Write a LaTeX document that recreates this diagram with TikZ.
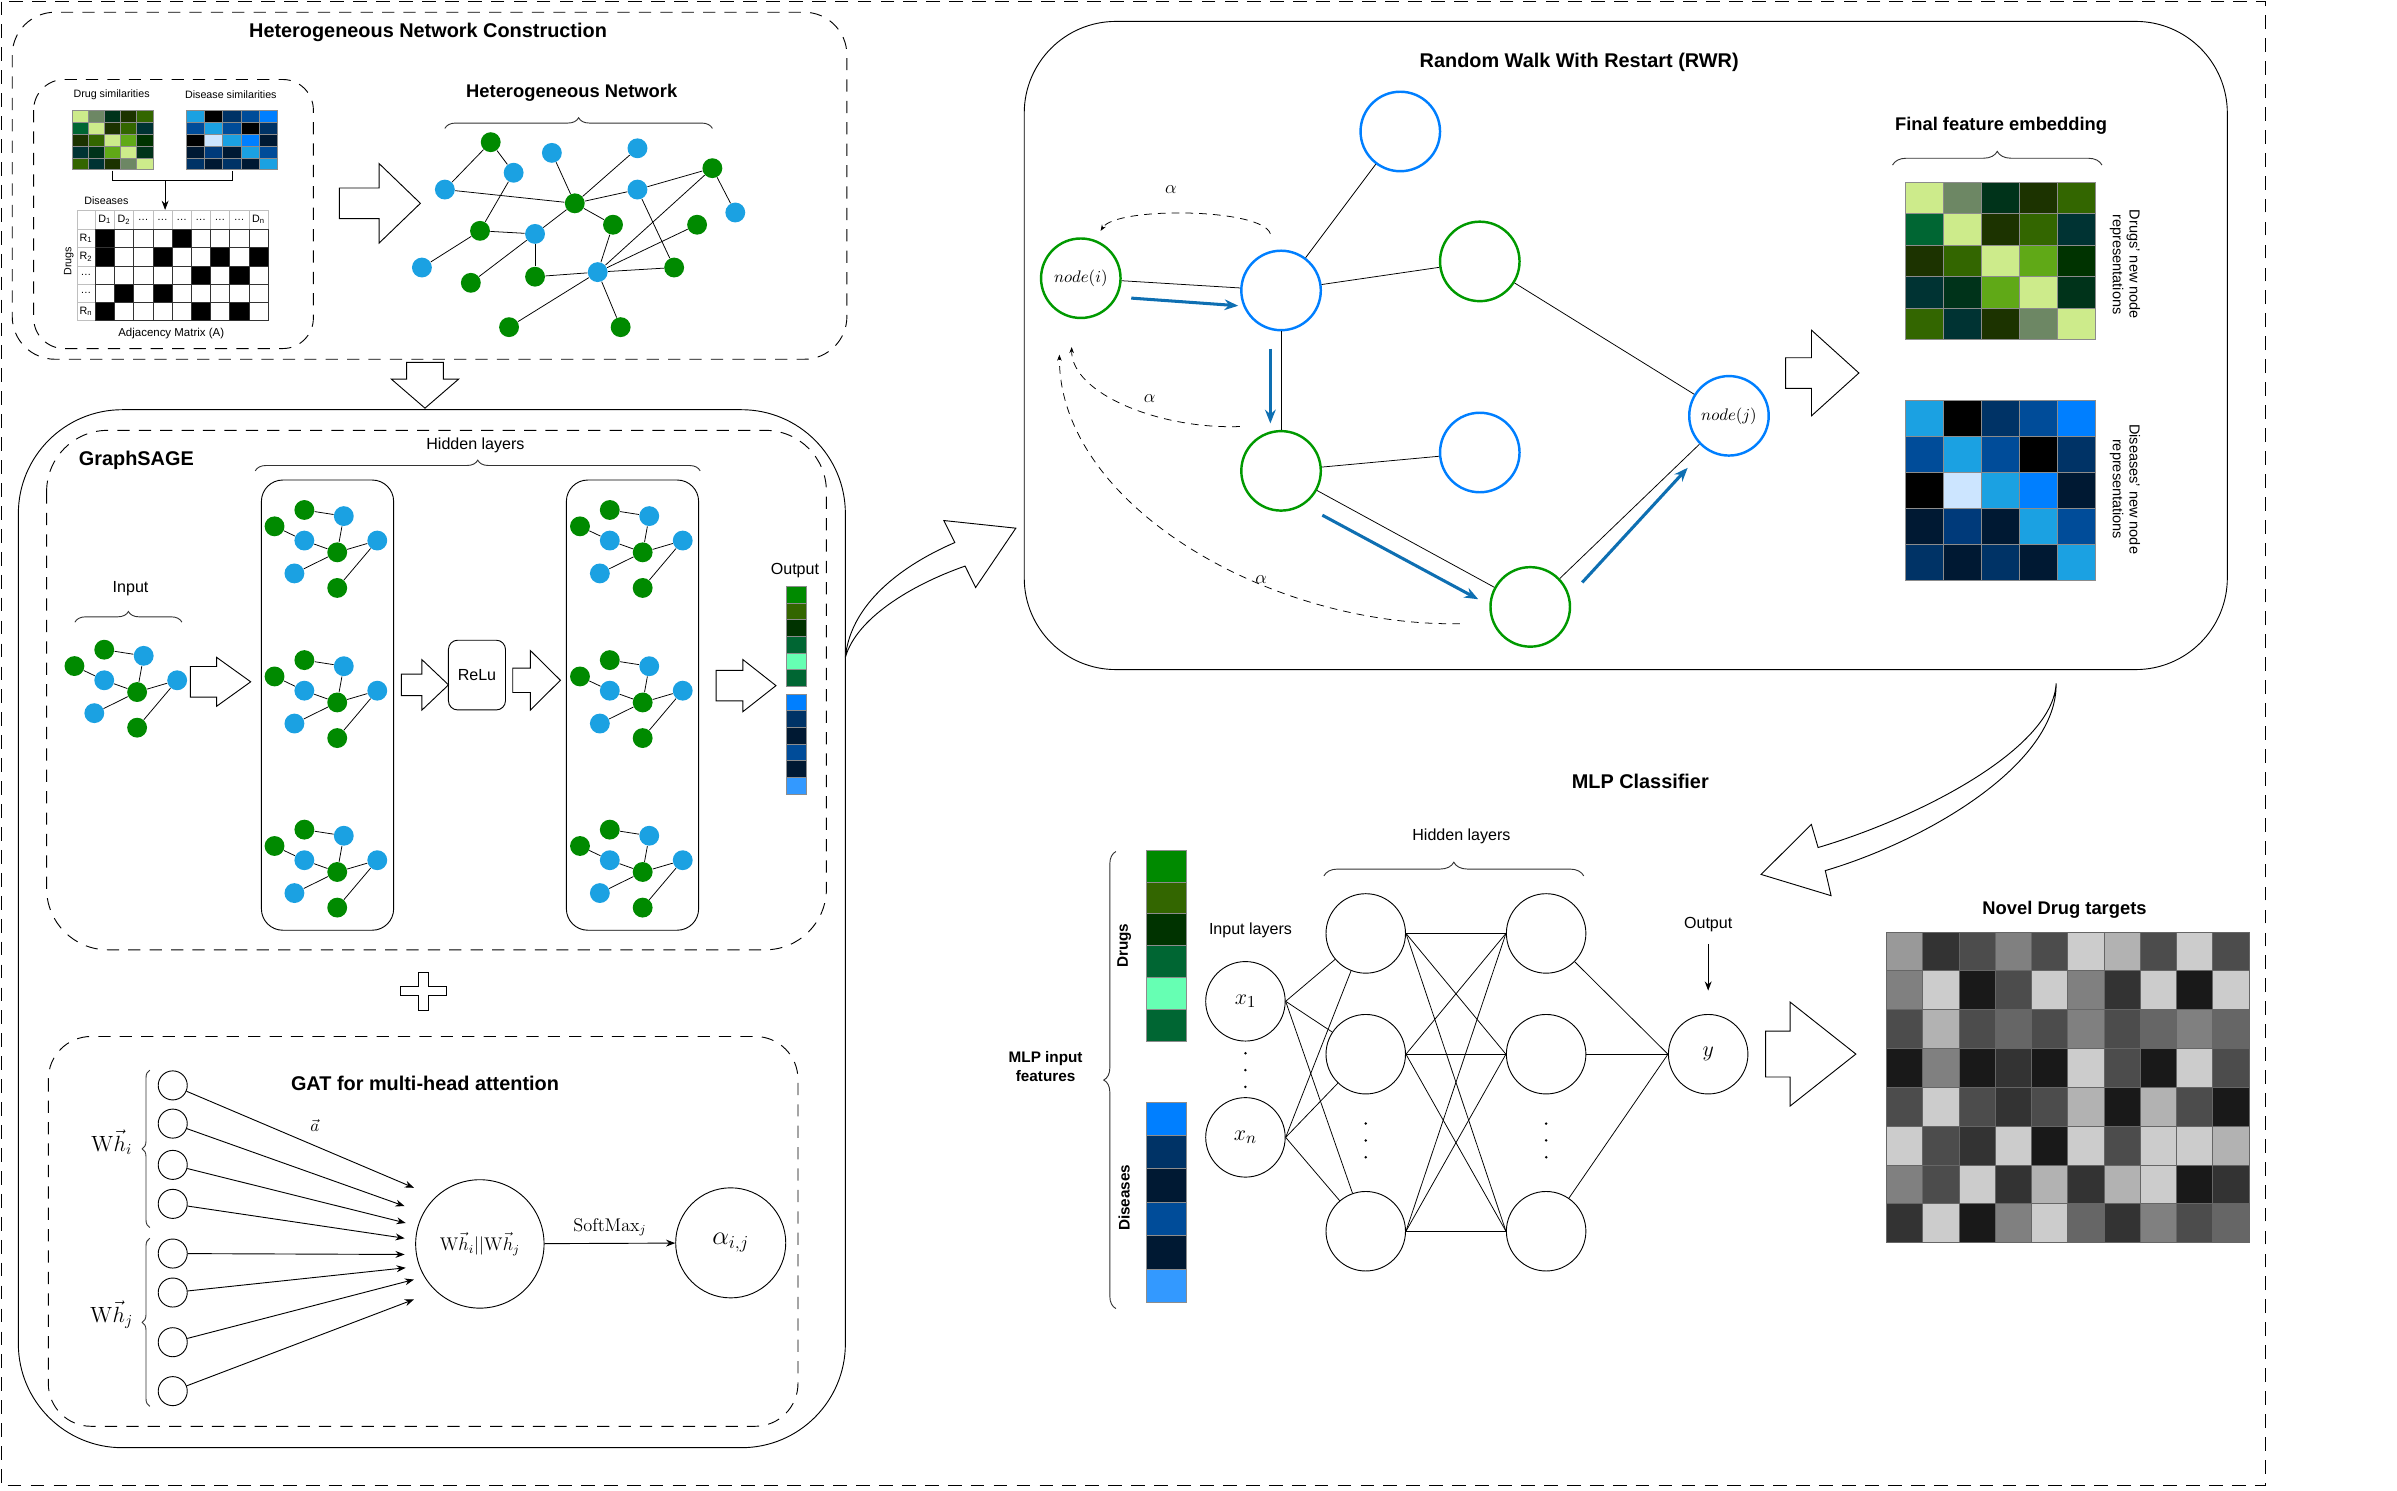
\documentclass[tikz,border=0pt]{standalone}
\usepackage[no-math]{fontspec}
\setmainfont{Liberation Sans}
\usetikzlibrary{positioning, arrows.meta, decorations.pathreplacing}

\definecolor{gnode}{HTML}{008A00}
\definecolor{bnode}{HTML}{1BA1E2}
\definecolor{walkgreen}{HTML}{009900}
\definecolor{walkblue}{HTML}{007FFF}
\definecolor{stepblue}{HTML}{0E6FB2}
\definecolor{dA}{HTML}{CDEB8B}
\definecolor{dB}{HTML}{6D8764}
\definecolor{dC}{HTML}{00331A}
\definecolor{dD}{HTML}{1C3300}
\definecolor{dE}{HTML}{336600}
\definecolor{dF}{HTML}{006633}
\definecolor{dG}{HTML}{003333}
\definecolor{dH}{HTML}{60A917}
\definecolor{dI}{HTML}{003300}
\definecolor{sA}{HTML}{1BA1E2}
\definecolor{sB}{HTML}{000000}
\definecolor{sC}{HTML}{003366}
\definecolor{sD}{HTML}{004C99}
\definecolor{sE}{HTML}{007FFF}
\definecolor{sF}{HTML}{CCE5FF}
\definecolor{sG}{HTML}{001933}
\definecolor{sH}{HTML}{003A7A}
\definecolor{oA}{HTML}{008A00}
\definecolor{oB}{HTML}{336600}
\definecolor{oC}{HTML}{003300}
\definecolor{oD}{HTML}{006633}
\definecolor{oE}{HTML}{66FFB3}
\definecolor{pA}{HTML}{007FFF}
\definecolor{pB}{HTML}{003366}
\definecolor{pC}{HTML}{001933}
\definecolor{pD}{HTML}{004C99}
\definecolor{pE}{HTML}{3399FF}

\newcommand{\cellgrid}[5]{%
    \foreach \row [count=\ri from 0] in #5 {
        \foreach \cl [count=\ki from 0] in \row {
            \filldraw[fill=\cl, draw=black!45, line width=0.3pt]
                ({#1+\ki*#3},{#2+\ri*#4}) rectangle ++(#3,#4);
        }
    }%
}

\newcommand{\blockR}[6]{%
    \draw[fill=white] (#1,{#4-#5}) -- (#2,{#4-#5}) -- (#2,{#4-#6}) -- (#3,#4)
        -- (#2,{#4+#6}) -- (#2,{#4+#5}) -- (#1,{#4+#5}) -- cycle;%
}

\newcommand{\drugrows}{{dA,dB,dC,dD,dE},{dF,dA,dD,dE,dG},{dD,dE,dA,dH,dI},{dG,dC,dH,dA,dC},{dE,dG,dD,dB,dA}}
\newcommand{\diseaserows}{{sA,sB,sC,sD,sE},{sD,sA,sD,sB,sC},{sB,sF,sA,sE,sG},{sG,sH,sG,sA,sD},{sC,sG,sC,sG,sA}}
\newcommand{\greenbar}{{oA},{oB},{oC},{oD},{oE},{oD}}
\newcommand{\bluebar}{{pA},{pB},{pC},{pD},{pC},{pE}}

\begin{document}
\begin{tikzpicture}[x=1pt, y=-1pt, line width=0.6pt,
    gn/.style={circle, fill=gnode, minimum size=13pt, inner sep=0pt},
    bn/.style={circle, fill=bnode, minimum size=13pt, inner sep=0pt},
    link/.style={line width=0.5pt},
    walkg/.style={circle, draw=walkgreen, line width=1.6pt, minimum size=52pt, inner sep=0pt, font=\fontsize{10.5}{12}\selectfont},
    walkb/.style={walkg, draw=walkblue},
    neuron/.style={circle, draw, minimum size=52pt, inner sep=0pt, font=\fontsize{15}{17}\selectfont},
    gatunit/.style={circle, draw, minimum size=19pt, inner sep=0pt},
    bigtitle/.style={font=\fontsize{13}{15}\selectfont\bfseries},
    subtitle/.style={font=\fontsize{12}{14}\selectfont\bfseries},
    lbl/.style={font=\fontsize{10.5}{12}\selectfont},
    tinytext/.style={font=\fontsize{7}{8}\selectfont, inner sep=1pt},
    greek/.style={font=\fontsize{12.5}{14}\selectfont},
    panel/.style={draw, dash pattern=on 8pt off 6pt, rounded corners=#1},
    solidbox/.style={draw, rounded corners=#1},
    brc/.style={decorate, decoration={brace, amplitude=#1}, black!80},
    arr/.style={-{Stealth[length=6pt, width=4.5pt]}},
    walk/.style={draw=stepblue, line width=2pt, -{Stealth[length=9pt, width=7pt]}},
    restart/.style={dash pattern=on 5pt off 4pt, line width=0.5pt, -{Stealth[length=4pt, width=3pt]}},
    minigraph/.pic={
        \node[gn] (-a) at (-41,-17) {};
        \node[gn] (-b) at (-21.5,-27.7) {};
        \node[bn] (-c) at (4.3,-23.7) {};
        \node[bn] (-d) at (-21.5,-7.7) {};
        \node[gn] (-e) at (0,0) {};
        \node[bn] (-f) at (26.2,-7.7) {};
        \node[bn] (-g) at (-28,13.8) {};
        \node[gn] (-h) at (0,23.3) {};
        \draw[link] (-a) -- (-d) (-b) -- (-c) (-c) -- (-e) (-d) -- (-e)
            (-e) -- (-f) (-e) -- (-g) (-f) -- (-h);
    }
]

    \useasboundingbox (0,0) rectangle (1568,975);
    \draw[dash pattern=on 9pt off 6pt] (1,1) rectangle (1482,972);

    % heterogeneous network construction
    \draw[panel=28pt] (8,8) rectangle (554,235);
    \node[bigtitle] at (280,21) {Heterogeneous Network Construction};
    \draw[panel=20pt] (22,52) rectangle (205,228);

    \node[tinytext] at (73,62) {Drug similarities};
    \node[tinytext] at (151,62) {Disease similarities};
    \node[minimum width=53pt, minimum height=39pt, inner sep=0pt, anchor=north west] (drugsim) at (47,72) {};
    \node[minimum width=60pt, minimum height=39pt, inner sep=0pt, anchor=north west] (dissim) at (121.5,72) {};
    \cellgrid{47}{72}{10.6}{7.8}{\drugrows}
    \cellgrid{121.5}{72}{12}{7.8}{\diseaserows}

    \node[minimum width=125pt, minimum height=72.4pt, inner sep=0pt, anchor=north west] (adj) at (50.4,137.3) {};
    \coordinate (simjoin) at (108,118);
    \draw[link] (drugsim.south) |- (simjoin) -| (dissim.south);
    \draw[link, arr] (simjoin) -- (simjoin |- adj.north);

    \foreach \ki in {0,...,8} {
        \draw[black!25, line width=0.4pt] ({62.3+\ki*12.56},137.3) rectangle ++(12.56,12.7);
    }
    \foreach \ri in {0,...,4} {
        \draw[black!25, line width=0.4pt] (50.4,{150+\ri*11.94}) rectangle ++(11.9,11.94);
    }
    \draw[black!25, line width=0.4pt] (50.4,137.3) rectangle (62.3,150);
    \foreach \cols [count=\ri from 0] in {{1,5},{1,4,7,9},{6,8},{2,4},{1,6,8}} {
        \foreach \ci in \cols {
            \fill ({62.3+(\ci-1)*12.56},{150+\ri*11.94}) rectangle ++(12.56,11.94);
        }
    }
    \foreach \ki in {0,...,8} {
        \foreach \ri in {0,...,4} {
            \draw[black!80, line width=0.4pt] ({62.3+\ki*12.56},{150+\ri*11.94}) rectangle ++(12.56,11.94);
        }
    }
    \foreach \t [count=\ki] in {D\textsubscript{1},D\textsubscript{2},\dots,\dots,\dots,\dots,\dots,\dots,D\textsubscript{n}} {
        \node[tinytext] at ({56.02+\ki*12.56},143.6) {\t};
    }
    \foreach \t [count=\ri] in {R\textsubscript{1},R\textsubscript{2},\dots,\dots,R\textsubscript{n}} {
        \node[tinytext] at (56.3,{144.03+\ri*11.94}) {\t};
    }
    \node[tinytext] at (69.6,131) {Diseases};
    \node[tinytext, rotate=90] at (45,171) {Drugs};
    \node[tinytext, font=\fontsize{7.5}{9}\selectfont] at (112,218) {Adjacency Matrix (A)};

    \blockR{222}{248}{275}{133}{10}{26}

    \node[subtitle] at (374,61) {Heterogeneous Network};
    \draw[brc=7pt] (291,84) -- (466,84);

    \foreach \n/\x/\y in {G1/321/93, G2/466/110, G3/376/133, G4/314/151, G5/401/147, G6/456/147,
        G7/308/185, G8/350/181, G9/441/175, G10/333/214, G11/406/214} {
        \node[gn] (\n) at (\x,\y) {};
    }
    \foreach \n/\x/\y in {B1/361/100, B2/417/97, B3/336/113, B4/291/124, B5/417/124, B6/481/139,
        B7/350/153, B8/276/175, B9/391/178} {
        \node[bn] (\n) at (\x,\y) {};
    }
    \foreach \a/\b in {G1/B3, G1/B4, B4/G3, B1/G3, B2/G3, G3/B5, B5/G2, G2/B6, G3/G5, G3/B7,
        B3/G4, G4/B7, G4/B8, B7/G7, B7/G8, G8/B9, B9/G9, B9/G5, B9/G2, B9/G6, B5/G9, B9/G10, B9/G11} {
        \draw[link] (\a) -- (\b);
    }

    \draw[fill=white] (266,237) -- (290,237) -- (290,248) -- (300,248) -- (278,267)
        -- (256,248) -- (266,248) -- cycle;

    % graphsage
    \draw[solidbox=68pt] (12,268) rectangle (553,947);
    \draw[panel=40pt] (30.5,281.5) rectangle (540.6,621.3);
    \node[bigtitle, anchor=west] at (48,301) {GraphSAGE};
    \node[lbl] at (311,291) {Hidden layers};
    \draw[brc=7pt] (167,308) -- (458,308);
    \node[lbl] at (85.4,385) {Input};
    \draw[brc=7pt] (49,407) -- (119,407);

    \pic (inp) at (89.7,452.7) {minigraph};
    \draw[solidbox=14pt] (171,314) rectangle (257.5,608.5);
    \draw[solidbox=14pt] (370.5,314) rectangle (457,608.5);
    \foreach \px [count=\ci] in {220.6,420.4} {
        \foreach \py [count=\ri] in {361.3,459.5,570.4} {
            \pic (hid\ci\ri) at (\px,\py) {minigraph};
        }
    }
    \node[draw, rounded corners=6pt, minimum width=37.3pt, minimum height=45.6pt, lbl] (relu) at (312,441.6) {ReLu};

    \blockR{124.5}{141.7}{164}{446}{10}{16}
    \blockR{262.6}{276}{293.4}{448}{7}{16.5}
    \blockR{335.4}{346.9}{366.6}{445}{8}{19.5}
    \blockR{468.5}{486}{507.6}{448.5}{10}{17}

    \node[lbl] at (520,373) {Output};
    \cellgrid{514}{383.5}{13.3}{10.9}{\greenbar}
    \cellgrid{514}{454}{13.3}{10.9}{\bluebar}

    \draw[fill=white] (274,636) -- (280,636) -- (280,645) -- (292,645) -- (292,651) -- (280,651)
        -- (280,661) -- (274,661) -- (274,651) -- (262,651) -- (262,645) -- (274,645) -- cycle;

    % gat
    \draw[panel=28pt] (31.6,678) rectangle (522,933);
    \node[bigtitle] at (278,709) {GAT for multi-head attention};
    \foreach \i/\yy in {1/710, 2/735, 3/762, 4/787.5, 5/820, 6/845.5, 7/878, 8/910} {
        \node[gatunit] (c\i) at (113,\yy) {};
    }
    \foreach \i/\ex/\ey in {1/270.8/777, 2/264.7/789, 3/265.4/800, 4/264.7/810,
        5/264.7/820.6, 6/265.4/829.3, 7/270.8/837, 8/270.8/850} {
        \coordinate (e\i) at (\ex,\ey);
        \draw[arr] (c\i) -- (e\i);
    }
    \draw[brc=5pt] (98,803) -- (98,700);
    \draw[brc=5pt] (98,920) -- (98,810);
    \node[font=\fontsize{14.5}{16}\selectfont] at (73,747) {$\mathrm{W}\vec{h}_i$};
    \node[font=\fontsize{14.5}{16}\selectfont] at (73,860) {$\mathrm{W}\vec{h}_j$};
    \node[font=\fontsize{11}{13}\selectfont] at (206,736) {$\vec{a}$};
    \node[circle, draw, minimum size=84pt, inner sep=0pt, font=\fontsize{12}{14}\selectfont] (concat) at (313.9,813.7) {$\mathrm{W}\vec{h}_i||\mathrm{W}\vec{h}_j$};
    \node[circle, draw, minimum size=72pt, inner sep=0pt, font=\fontsize{17}{19}\selectfont] (att) at (478,813) {$\alpha_{i,j}$};
    \draw[arr] (concat) -- (att) node[midway, above=1pt, font=\fontsize{11.5}{13}\selectfont] {$\mathrm{SoftMax}_j$};

    % curved arrow to rwr
    \draw[fill=white] (553,430) .. controls (556,398) and (585,372) .. (624.6,354.9)
        -- (617.4,340.5) -- (664.5,345.5) -- (638.2,384.3) -- (631.3,370.3)
        .. controls (595,383) and (560,405) .. (553,430) -- cycle;

    % random walk with restart
    \draw[solidbox=60pt] (670,14) rectangle (1457,438);
    \node[bigtitle] at (1033,41) {Random Walk With Restart (RWR)};
    \node[walkg] (nodei) at (707,182) {$node(i)$};
    \node[walkb] (walkA) at (838,190) {};
    \node[walkb] (walkTop) at (916,86) {};
    \node[walkg] (walkR) at (968,171) {};
    \node[walkg] (walkM) at (838,308) {};
    \node[walkb] (walkMR) at (968,296) {};
    \node[walkg] (walkB) at (1001,397) {};
    \node[walkb] (nodej) at (1131,272) {$node(j)$};
    \foreach \a/\b in {nodei/walkA, walkA/walkTop, walkA/walkR, walkA/walkM, walkR/nodej,
        walkM/walkMR, walkM/walkB, walkB/nodej} {
        \draw[link] (\a) -- (\b);
    }

    \coordinate (w1s) at (740,195);
    \coordinate (w1e) at (810,200);
    \coordinate (w2s) at (831,228);
    \coordinate (w2e) at (831,277);
    \coordinate (w3s) at (865,337);
    \coordinate (w3e) at (967,392);
    \coordinate (w4s) at (1035,381);
    \coordinate (w4e) at (1104,306);
    \draw[walk] (w1s) -- (w1e);
    \draw[walk] (w2s) -- (w2e);
    \draw[walk] (w3s) -- (w3e);
    \draw[walk] (w4s) -- (w4e);

    \coordinate (r1s) at (831,153);
    \coordinate (r1e) at (720,151);
    \coordinate (r2s) at (811,279);
    \coordinate (r2e) at (701,227);
    \coordinate (r3s) at (955,408);
    \coordinate (r3e) at (693,232);
    \draw[restart] (r1s) .. controls (826,136) and (730,135) .. (r1e);
    \draw[restart] (r2s) .. controls (760,281) and (701,258) .. (r2e);
    \draw[restart] (r3s) .. controls (830,410) and (693,330) .. (r3e);
    \node[greek] at (766,124) {$\alpha$};
    \node[greek] at (752,261) {$\alpha$};
    \node[greek] at (825,379) {$\alpha$};

    \blockR{1168}{1185}{1216}{244}{10}{28}

    \node[subtitle] at (1309,82) {Final feature embedding};
    \draw[brc=9pt] (1238,108) -- (1375,108);
    \cellgrid{1246.4}{119.2}{24.9}{20.6}{\drugrows}
    \cellgrid{1246.4}{262}{24.9}{23.5}{\diseaserows}
    \node[rotate=-90, align=center, font=\fontsize{9.5}{11}\selectfont] at (1390,173) {Drugs' new node\\representations};
    \node[rotate=-90, align=center, font=\fontsize{9.5}{11}\selectfont] at (1390,320) {Diseases' new node\\representations};

    % curved arrow to mlp
    \draw[fill=white] (1345,447) .. controls (1346,500) and (1260,550) .. (1194,569.5)
        -- (1197.8,585.9) -- (1152,572) -- (1184.9,539.3) -- (1189.3,554.4)
        .. controls (1255,535) and (1343,490) .. (1345,447) -- cycle;

    % mlp classifier
    \node[bigtitle] at (1073,511) {MLP Classifier};
    \node[font=\fontsize{10}{12}\selectfont\bfseries, align=center] at (684,697.6) {MLP input\\features};
    \draw[brc=8pt] (730,856) -- (730,557);
    \cellgrid{749.8}{556}{26.2}{20.8}{\greenbar}
    \cellgrid{749.8}{720.7}{26.2}{21.9}{\bluebar}
    \node[rotate=90, font=\fontsize{10}{12}\selectfont\bfseries] at (735.4,618.6) {Drugs};
    \node[rotate=90, font=\fontsize{10}{12}\selectfont\bfseries] at (735.4,783.5) {Diseases};

    \node[lbl] at (818,608.4) {Input layers};
    \node[neuron] (x1) at (814.7,655) {$x_1$};
    \node[neuron] (xn) at (814.7,744) {$x_n$};
    \node[neuron] (h1a) at (893.4,610.6) {};
    \node[neuron] (h1b) at (893.4,689.6) {};
    \node[neuron] (h1c) at (893.4,805.4) {};
    \node[neuron] (h2a) at (1011.4,610.6) {};
    \node[neuron] (h2b) at (1011.4,689.6) {};
    \node[neuron] (h2c) at (1011.4,805.4) {};
    \node[neuron] (y) at (1117.4,689.6) {$y$};
    \foreach \yy in {689,700,711} {
        \fill (814.7,\yy) circle (0.9pt);
    }
    \foreach \yy in {735,746,757} {
        \fill (893.4,\yy) circle (0.9pt);
        \fill (1011.4,\yy) circle (0.9pt);
    }
    \foreach \s in {x1,xn} {
        \foreach \t in {h1a,h1b,h1c} {
            \draw[link] (\s.east) -- (\t);
        }
    }
    \foreach \s in {h1a,h1b,h1c} {
        \foreach \t in {h2a,h2b,h2c} {
            \draw[link] (\s.east) -- (\t.west);
        }
    }
    \foreach \s in {h2a,h2b,h2c} {
        \draw[link] (\s) -- (y.west);
    }
    \node[lbl] at (956,547) {Hidden layers};
    \draw[brc=9pt] (866,573) -- (1036,573);
    \node[lbl] (outlbl) at (1117.4,605) {Output};
    \coordinate (ytop) at (1117.4,648);
    \draw[arr] ([yshift=-4pt]outlbl.south) -- (ytop);

    \blockR{1155}{1171}{1214}{689.5}{15}{34}

    \node[subtitle] at (1350.5,595) {Novel Drug targets};
    \foreach \row [count=\ri from 0] in {{4,8,7,5,7,2,3,7,2,7},{5,2,9,7,2,5,8,2,9,2},
        {7,3,7,6,7,5,7,6,5,6},{9,5,9,8,9,2,7,9,2,7},{7,2,7,8,7,3,9,3,7,9},
        {2,7,8,2,9,2,7,2,2,3},{5,7,2,8,3,8,3,2,9,8},{8,2,9,5,2,6,8,5,7,6}} {
        \foreach \v [count=\ki from 0] in \row {
            \filldraw[fill=black!\v0, draw=black!60, line width=0.3pt]
                ({1234+\ki*23.7},{609.5+\ri*25.4}) rectangle ++(23.7,25.4);
        }
    }

\end{tikzpicture}
\end{document}
